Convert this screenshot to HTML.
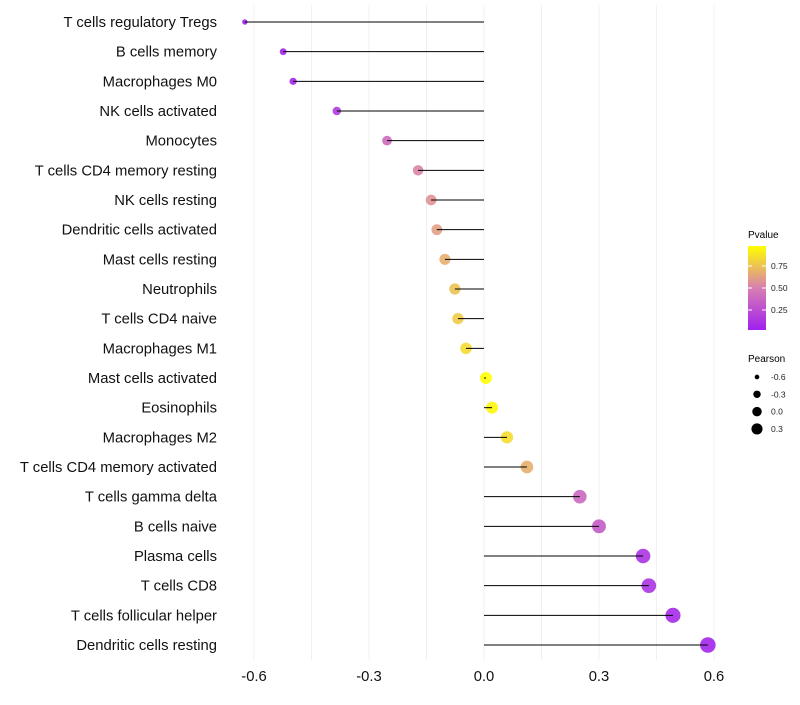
<!DOCTYPE html>
<html><head><meta charset="utf-8"><style>
body{margin:0;background:#fff;font-family:"Liberation Sans",sans-serif;}
</style></head><body>
<svg id="c" width="800" height="700" xmlns="http://www.w3.org/2000/svg">
<defs><linearGradient id="pg" x1="0" y1="1" x2="0" y2="0">
<stop offset="0" stop-color="#a020f0"/><stop offset="0.5" stop-color="#d87fb0"/><stop offset="1" stop-color="#ffff00"/></linearGradient></defs>
<g id="grid"></g>
<g id="pts"></g>
<g id="marks"></g>
<g id="ylab"></g>
<g id="xlab"></g>
<g>
<text x="748" y="238" font-size="10">Pvalue</text>
<rect x="748" y="246" width="18" height="84" fill="url(#pg)"/>
<g id="cbt"></g>
</g>
<g id="sizeleg">
<text x="748" y="362" font-size="10">Pearson</text>
</g>
</svg>
<script>
const cats=["T cells regulatory  Tregs","B cells memory","Macrophages M0","NK cells activated","Monocytes","T cells CD4 memory resting","NK cells resting","Dendritic cells activated","Mast cells resting","Neutrophils","T cells CD4 naive","Macrophages M1","Mast cells activated","Eosinophils","Macrophages M2","T cells CD4 memory activated","T cells gamma delta","B cells naive","Plasma cells","T cells CD8","T cells follicular helper","Dendritic cells resting"];
const pearson=[-0.624,-0.524,-0.498,-0.384,-0.253,-0.172,-0.138,-0.123,-0.102,-0.076,-0.068,-0.047,0.005,0.021,0.06,0.112,0.25,0.30,0.415,0.43,0.493,0.584];
const pvals=[0.02,0.05,0.05,0.15,0.4,0.52,0.58,0.62,0.68,0.75,0.78,0.85,0.98,0.95,0.85,0.68,0.38,0.32,0.12,0.12,0.07,0.05];
const xTicks=[-0.6,-0.3,0.0,0.3,0.6];
const cbTicks=[0.25,0.5,0.75];
const sizeLegend=[-0.6,-0.3,0.0,0.3];
const NS="http://www.w3.org/2000/svg";
const X=v=>484+v*383.3, Y=i=>22+i*29.667, R=v=>Math.max(2,1.08*Math.sqrt(Math.max(0,30+38*v)));
function mk(p,t,a){const e=document.createElementNS(NS,t);for(const k in a)e.setAttribute(k,a[k]);p.appendChild(e);return e;}
function lerp(a,b,t){return a.map((x,i)=>Math.round(x+(b[i]-x)*t));}
function col(p){const s=[[160,32,240],[216,127,176],[255,255,0]];p=Math.min(1,Math.max(0,(p-0.02)/0.96));const c=p<0.5?lerp(s[0],s[1],p/0.5):lerp(s[1],s[2],(p-0.5)/0.5);return `rgb(${c})`;}
const g=document.getElementById('grid');
for(let v=-0.6;v<=0.61;v+=0.15){const l=mk(g,'line',{x1:X(v),x2:X(v),y1:5,y2:660,stroke:'#f0f0f0','stroke-width':1});

}
const m=document.getElementById('marks'),pts=document.getElementById('pts'),yl=document.getElementById('ylab');
cats.forEach((c,i)=>{
 const d=mk(pts,'circle',{cx:X(pearson[i]),cy:Y(i),r:R(pearson[i]),fill:col(pvals[i]),'fill-opacity':0.9});
 
 
 const l=mk(m,'line',{x1:X(0),x2:X(pearson[i]),y1:Y(i),y2:Y(i),stroke:'#000','stroke-width':1});
 
 
 const t=mk(yl,'text',{x:217,y:Y(i)+5,'text-anchor':'end','font-size':14.8,fill:'#111'});t.textContent=c;
 
 
});
const xl=document.getElementById('xlab');
xTicks.forEach(v=>{const t=mk(xl,'text',{x:X(v),y:681,'text-anchor':'middle','font-size':14.8,fill:'#111'});t.textContent=v.toFixed(1);
 
 });
const cb=document.getElementById('cbt');
cbTicks.forEach(v=>{const y=332-88*v;
 mk(cb,'line',{x1:748,x2:752,y1:y,y2:y,stroke:'#fff'});mk(cb,'line',{x1:762,x2:766,y1:y,y2:y,stroke:'#fff'});
 const t=mk(cb,'text',{x:771,y:y+3,'font-size':8.5,fill:'#222'});t.textContent=v.toFixed(2);
 
 });
const sl=document.getElementById('sizeleg');
sizeLegend.forEach((v,i)=>{const y=377+i*17.3;
 const c=mk(sl,'circle',{cx:757,cy:y,r:R(v)*0.8,fill:'#000'});
 
 
 const t=mk(sl,'text',{x:771,y:y+3,'font-size':8.5,fill:'#222'});t.textContent=v.toFixed(1);
 
 });
</script>
</body></html>
